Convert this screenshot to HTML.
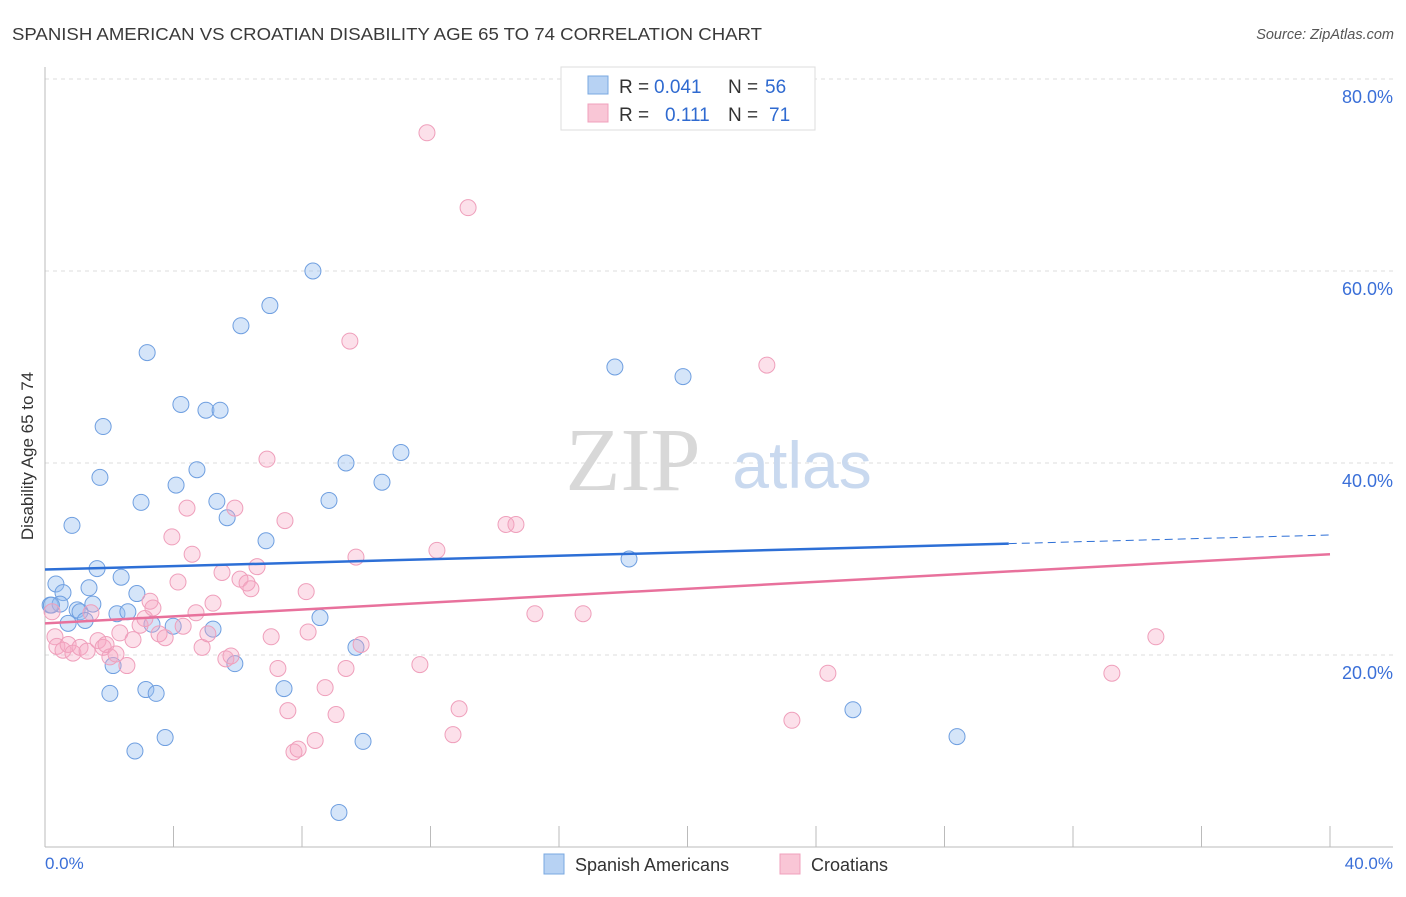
<!DOCTYPE html>
<html><head><meta charset="utf-8"><style>
body{margin:0;background:#fff;font-family:"Liberation Sans",sans-serif;}
</style></head><body>
<svg id="chart" width="1406" height="892" xmlns="http://www.w3.org/2000/svg" font-family="Liberation Sans, sans-serif">
<text x="12" y="40" font-size="17.5" fill="#3a3a3a" textLength="750" lengthAdjust="spacingAndGlyphs">SPANISH AMERICAN VS CROATIAN DISABILITY AGE 65 TO 74 CORRELATION CHART</text>
<text x="1394" y="39" font-size="14.5" fill="#555" font-style="italic" text-anchor="end">Source: ZipAtlas.com</text>
<g id="grid"></g>
<g>
<text x="633" y="490" font-size="90" font-family="Liberation Serif, serif" fill="#d8d8d8" text-anchor="middle">ZIP</text>
<text x="802" y="488" font-size="66" fill="#c9d9ef" text-anchor="middle">atlas</text>
</g>
<line x1="45" y1="67" x2="45" y2="847" stroke="#bbb"/>
<line x1="45" y1="847" x2="1393" y2="847" stroke="#bbb"/>
<text transform="translate(33,456) rotate(-90)" font-size="17" fill="#333" text-anchor="middle">Disability Age 65 to 74</text>
<text x="45" y="869" font-size="17" fill="#3a6fd8">0.0%</text>
<text x="1393" y="869" font-size="17" fill="#3a6fd8" text-anchor="end">40.0%</text>
<g id="marks"></g>
<g font-size="19">
<rect x="561" y="67" width="254" height="63" fill="#fff" stroke="#ddd"/>
<rect x="588" y="76" width="20" height="18" fill="#b7d2f3" stroke="#7aa8e0"/>
<rect x="588" y="104" width="20" height="18" fill="#f9c6d6" stroke="#f0a0bc"/>
<text x="619" y="93" fill="#333">R =</text>
<text x="654" y="93" fill="#2f6ad0">0.041</text>
<text x="728" y="93" fill="#333">N =</text>
<text x="765" y="93" fill="#2f6ad0">56</text>
<text x="619" y="121" fill="#333">R =</text>
<text x="665" y="121" fill="#2f6ad0">0.111</text>
<text x="728" y="121" fill="#333">N =</text>
<text x="769" y="121" fill="#2f6ad0">71</text>
</g>
<g>
<rect x="544" y="854" width="20" height="20" fill="#b7d2f3" stroke="#7aa8e0"/>
<text x="575" y="871" font-size="18" fill="#333">Spanish Americans</text>
<rect x="780" y="854" width="20" height="20" fill="#f9c6d6" stroke="#f0a0bc"/>
<text x="811" y="871" font-size="18" fill="#333">Croatians</text>
</g>
</svg>
<script>
const yTicks=[20,40,60,80];
const yTickLabels=["20.0%","40.0%","60.0%","80.0%"];
const xTicks=[0,4,8,12,16,20,24,28,32,36,40];
const blueX=[0.16,0.34,0.56,0.47,0.72,0.84,1.0,1.09,1.25,1.37,1.49,1.62,1.71,1.81,2.02,2.12,2.24,2.37,2.58,2.80,2.86,2.99,3.18,3.14,3.33,3.46,3.74,3.99,4.08,4.23,4.73,5.01,5.23,5.35,5.45,5.67,5.91,6.10,6.88,7.00,7.44,8.34,8.56,8.84,9.15,9.37,9.68,9.90,10.49,11.08,17.74,18.18,19.86,25.15,28.39,0.2];
const blueY=[25.2,27.4,26.5,25.3,23.3,33.5,24.7,24.5,23.6,27.0,25.3,29.0,38.5,43.8,16.0,18.9,24.3,28.1,24.5,10.0,26.4,35.9,51.5,16.4,23.2,16.0,11.4,23.0,37.7,46.1,39.3,45.5,22.7,36.0,45.5,34.3,19.1,54.3,31.9,56.4,16.5,60.0,23.9,36.1,3.6,40.0,20.8,11.0,38.0,41.1,50.0,30.0,49.0,14.3,11.5,25.2];
const pinkX=[0.22,0.31,0.37,0.56,0.72,0.87,1.09,1.31,1.43,1.65,1.81,1.90,2.02,2.21,2.33,2.55,2.74,2.96,3.11,3.27,3.36,3.55,3.74,3.95,4.14,4.30,4.42,4.58,4.70,4.89,5.07,5.23,5.51,5.63,5.79,5.91,6.07,6.29,6.41,6.60,6.91,7.04,7.25,7.47,7.56,7.75,7.88,8.13,8.19,8.41,8.72,9.06,9.37,9.49,9.68,9.84,11.67,11.89,12.20,12.70,12.89,13.17,14.35,14.66,15.25,16.75,22.47,23.25,24.37,33.21,34.58];
const pinkY=[24.5,21.9,20.9,20.5,21.1,20.2,20.8,20.4,24.4,21.5,20.8,21.1,19.8,20.1,22.3,18.9,21.6,23.1,23.8,25.6,24.9,22.2,21.8,32.3,27.6,23.0,35.3,30.5,24.4,20.8,22.2,25.4,28.6,19.6,19.9,35.3,27.9,27.5,26.9,29.2,40.4,21.9,18.6,34.0,14.2,9.9,10.2,26.6,22.4,11.1,16.6,13.8,18.6,52.7,30.2,21.1,19.0,74.4,30.9,11.7,14.4,66.6,33.6,33.6,24.3,24.3,50.2,13.2,18.1,18.1,21.9];
const blueFit=[28.9,31.6,32.5];
const pinkFit=[23.3,30.5];
const NS="http://www.w3.org/2000/svg";
const xs=v=>45+v*32.125, ys=v=>847-v*9.6;
function mk(t,a,p){const e=document.createElementNS(NS,t);for(const k in a)e.setAttribute(k,a[k]);p.appendChild(e);return e;}
const grid=document.getElementById('grid'),marks=document.getElementById('marks');
yTicks.forEach((v,i)=>{
 const l=mk('line',{x1:45,x2:1393,y1:ys(v),y2:ys(v),stroke:'#ddd','stroke-dasharray':'4,4'},grid);
 
 
 const t=mk('text',{x:1393,y:ys(v)+24,'font-size':18,fill:'#3a6fd8','text-anchor':'end'},grid);
 t.textContent=yTickLabels[i];
 
 
});
xTicks.forEach(v=>{
 const l=mk('line',{x1:xs(v),x2:xs(v),y1:826,y2:847,stroke:'#bbb'},grid);
 
 
});
blueX.forEach((x,i)=>{
 const c=mk('circle',{cx:xs(x),cy:ys(blueY[i]),r:8,fill:'rgba(150,190,240,0.4)',stroke:'#6f9fe0','stroke-width':1},marks);
 
 
});
pinkX.forEach((x,i)=>{
 const c=mk('circle',{cx:xs(x),cy:ys(pinkY[i]),r:8,fill:'rgba(245,165,195,0.35)',stroke:'#ef9fbb','stroke-width':1},marks);
 
 
});
const b1=mk('line',{x1:xs(0),y1:ys(blueFit[0]),x2:xs(30),y2:ys(blueFit[1]),stroke:'#2d6fd6','stroke-width':2.5},marks);


const b2=mk('line',{x1:xs(30),y1:ys(blueFit[1]),x2:xs(40),y2:ys(blueFit[2]),stroke:'#2d6fd6','stroke-width':1,'stroke-dasharray':'8,5'},marks);


const p1=mk('line',{x1:xs(0),y1:ys(pinkFit[0]),x2:xs(40),y2:ys(pinkFit[1]),stroke:'#e8719c','stroke-width':2.5},marks);


</script>
</body></html>
